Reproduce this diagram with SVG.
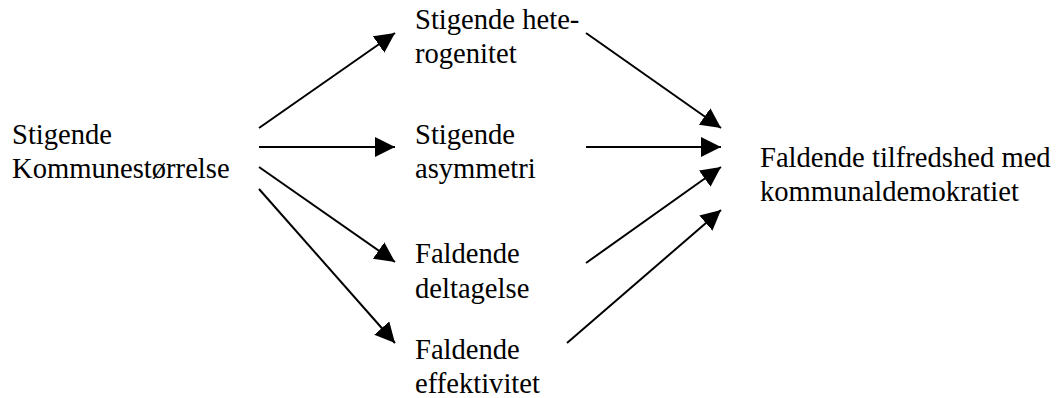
<svg xmlns="http://www.w3.org/2000/svg" width="1059" height="398" viewBox="0 0 1059 398">
<style>
.c line{stroke:#000;stroke-width:2;marker-end:url(#ah)}
</style>
<defs>
<marker id="ah" markerUnits="userSpaceOnUse" markerWidth="20" markerHeight="20" refX="20" refY="10" orient="auto">
<path d="M0,0 L20,10 L0,20 z" fill="#000"/>
</marker>
</defs>
<rect width="1059" height="398" fill="#fff"/>
<g font-family="Liberation Serif, serif" font-size="28.6" fill="#000">
<g id="n-size"><text x="12" y="144">Stigende</text><text x="12" y="178">Kommunestørrelse</text></g>
<g id="n-het"><text x="415" y="29">Stigende hete-</text><text x="415" y="63">rogenitet</text></g>
<g id="n-asym"><text x="415" y="144">Stigende</text><text x="415" y="178">asymmetri</text></g>
<g id="n-delt"><text x="415" y="263">Faldende</text><text x="415" y="298">deltagelse</text></g>
<g id="n-eff"><text x="415" y="359">Faldende</text><text x="415" y="393">effektivitet</text></g>
<g id="n-tilf"><text x="760" y="167">Faldende tilfredshed med</text><text x="760" y="201">kommunaldemokratiet</text></g>
</g>
<g class="c" id="connectors">
<line x1="259" y1="128" x2="395" y2="33"/>
<line x1="259" y1="147" x2="395" y2="147"/>
<line x1="259" y1="167" x2="395" y2="262"/>
<line x1="259" y1="189" x2="395" y2="343"/>
<line x1="586" y1="33" x2="721" y2="128"/>
<line x1="586" y1="147" x2="721" y2="147"/>
<line x1="586" y1="263" x2="721" y2="167"/>
<line x1="567" y1="343" x2="721" y2="210"/>
</g>
</svg>
